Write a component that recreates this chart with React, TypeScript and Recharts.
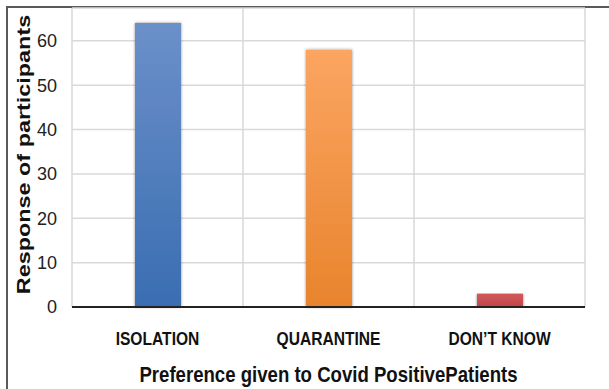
import React from 'react'
import { BarChart, Bar, XAxis, YAxis, CartesianGrid, Cell } from 'recharts'

const categories = ['ISOLATION', 'QUARANTINE', 'DON\u2019T KNOW']
const responses = [64, 58, 3]
const yTicks = [0, 10, 20, 30, 40, 50, 60]

const gradients = [
  { id: 'gradBlue', top: '#6b90c9', bottom: '#3a6db2' },
  { id: 'gradOrange', top: '#fba562', bottom: '#e8842d' },
  { id: 'gradRed', top: '#d35a59', bottom: '#c0454a' },
]

const data = categories.map((name, i) => ({ name, value: responses[i] }))

const FONT = '"Liberation Sans", Arial, sans-serif'

// text is drawn a little taller than wide, so stretch it vertically
const CategoryTick = ({ x, y, payload }: { x?: number; y?: number; payload?: { value: string } }) => (
  <g transform={`translate(${x} ${(y ?? 0) + 30}) scale(1 1.17)`}>
    <text x={0} y={0} textAnchor="middle" fontFamily={FONT} fontWeight="bold" fontSize={15.6} fill="#111">
      {payload?.value}
    </text>
  </g>
)

type ViewBox = { x: number; y: number; width: number; height: number }

const XTitle = ({ viewBox }: { viewBox?: ViewBox }) => {
  const vb = viewBox as ViewBox
  return (
    <g transform={`translate(${vb.x + vb.width / 2} ${vb.y + 75}) scale(1 1.14)`}>
      <text x={0} y={0} textAnchor="middle" fontFamily={FONT} fontWeight="bold" fontSize={18.6} fill="#111">
        Preference given to Covid PositivePatients
      </text>
    </g>
  )
}

const YTitle = ({ viewBox }: { viewBox?: ViewBox }) => {
  const vb = viewBox as ViewBox
  const cx = vb.x + 30
  const cy = vb.y + vb.height / 2 - 3
  return (
    <g transform={`translate(${cx} ${cy}) scale(1 1.3) rotate(-90)`}>
      <text x={0} y={0} textAnchor="middle" fontFamily={FONT} fontWeight="bold" fontSize={18} fill="#111">
        Response of participants
      </text>
    </g>
  )
}

export default function App() {
  return (
    <div style={{ position: 'absolute', left: 0, top: 0, width: 609, height: 389, background: '#fff' }}>
      <div
        style={{
          position: 'absolute',
          left: 6,
          top: 6,
          right: 0,
          bottom: 0,
          borderTop: '2px solid #5a5a5a',
          borderLeft: '2px solid #5a5a5a',
        }}
      />
      <BarChart
        width={609}
        height={389}
        data={data}
        margin={{ top: 8, right: 24, left: 0, bottom: 0 }}
        barCategoryGap={0}
        style={{ position: 'absolute', left: 0, top: 0 }}
      >
        <defs>
          {gradients.map((g) => (
            <linearGradient key={g.id} id={g.id} x1="0" y1="0" x2="0" y2="1">
              <stop offset="0%" stopColor={g.top} />
              <stop offset="100%" stopColor={g.bottom} />
            </linearGradient>
          ))}
          <filter id="barShadow" x="-20%" y="-5%" width="140%" height="110%">
            <feDropShadow dx="0" dy="0" stdDeviation="1.6" floodColor="#000" floodOpacity="0.45" />
          </filter>
        </defs>
        <CartesianGrid
          stroke="#d9d9d9"
          strokeWidth={1.5}
          verticalCoordinatesGenerator={({ offset }: any) =>
            [0, 1, 2, 3].map((i) => offset.left + (i * offset.width) / categories.length)
          }
        />
        <XAxis
          dataKey="name"
          height={82}
          axisLine={{ stroke: '#222', strokeWidth: 2 }}
          tickLine={false}
          tick={<CategoryTick />}
          interval={0}
          label={{ content: <XTitle /> }}
        />
        <YAxis
          width={72}
          domain={[0, 67.4]}
          ticks={yTicks}
          axisLine={false}
          tickLine={false}
          tickMargin={9}
          tick={{ fontFamily: FONT, fontSize: 18, fill: '#222' }}
          label={{ content: <YTitle /> }}
        />
        <Bar dataKey="value" barSize={46} isAnimationActive={false} filter="url(#barShadow)">
          {data.map((d, i) => (
            <Cell key={d.name} fill={`url(#${gradients[i].id})`} />
          ))}
        </Bar>
      </BarChart>
    </div>
  )
}
